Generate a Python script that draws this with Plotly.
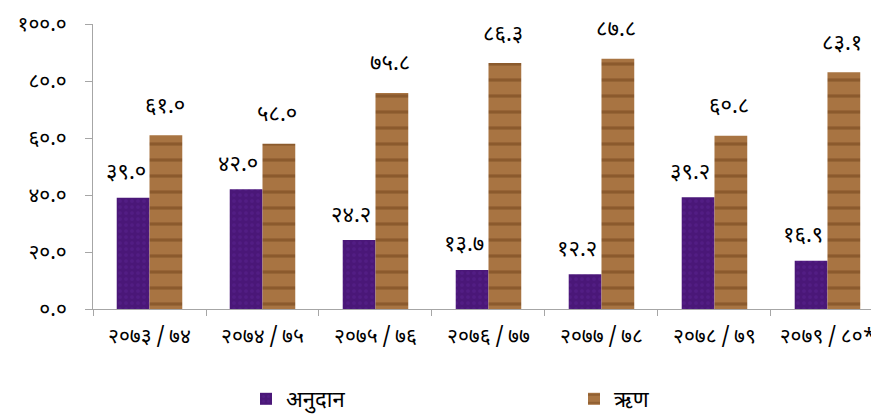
import plotly.graph_objects as go

categories = ["२०७३/७४", "२०७४/७५", "२०७५/७६", "२०७६/७७", "२०७७/७८", "२०७८/७९", "२०७९/८०*"]
grant = [39.0, 42.0, 24.2, 13.7, 12.2, 39.2, 16.9]
loan = [61.0, 58.0, 75.8, 86.3, 87.8, 60.8, 83.1]
series_names = ["अनुदान", "ऋण"]
y_ticks = [0, 20, 40, 60, 80, 100]

DIG = str.maketrans("0123456789", "०१२३४५६७८९")


def np_num(v):
    return f"{v:.1f}".translate(DIG)


def np_cat(c):
    return c.replace("/", "\u2009/\u2009")


FONT = "Noto Sans Devanagari, Lohit Devanagari, Mangal, Noto Sans, DejaVu Sans"
purple = "#4a1778"
brown = "#9c6a3a"

# page body has an 8px margin; figure sized so it fills the rest of the 879x416 window
W, H = 871, 408

fig = go.Figure()
fig.add_trace(go.Bar(
    x=categories, y=grant, name=series_names[0], legend="legend",
    marker=dict(color=purple, line=dict(width=0),
                pattern=dict(shape=".", fgcolor="#5a2490", bgcolor=purple, size=6, solidity=0.3)),
))
fig.add_trace(go.Bar(
    x=categories, y=loan, name=series_names[1], legend="legend2",
    marker=dict(color=brown, line=dict(width=0),
                pattern=dict(shape="-", fgcolor="#6e4018", bgcolor="#a87442", size=16, solidity=0.2)),
))

for c, g, l in zip(categories, grant, loan):
    fig.add_annotation(x=c, y=g, text=np_num(g), showarrow=False, xshift=-24, yshift=24,
                       font=dict(size=22, color="black", family=FONT))
    fig.add_annotation(x=c, y=l, text=np_num(l), showarrow=False, xshift=15, yshift=28,
                       font=dict(size=22, color="black", family=FONT))

legend_common = dict(orientation="h", xref="container", yref="container",
                     xanchor="left", yanchor="middle", y=17 / H, itemwidth=30,
                     bgcolor="rgba(0,0,0,0)", font=dict(size=22, family=FONT))

fig.update_layout(
    width=W, height=H,
    margin=dict(l=85, r=0, t=16, b=107, autoexpand=False),
    plot_bgcolor="white", paper_bgcolor="white",
    barmode="group", bargap=0.42, bargroupgap=0,
    font=dict(family=FONT, color="black", size=20),
    showlegend=True,
    legend=dict(x=(262 - 8 - 16) / W, **legend_common),
    legend2=dict(x=(590 - 8 - 16) / W, **legend_common),
)
fig.update_xaxes(
    tickvals=categories, ticktext=[np_cat(c) for c in categories],
    range=[-0.5, 6.456], showline=True, linecolor="#a6a6a6", linewidth=1,
    ticks="outside", tickson="boundaries", ticklen=6, tickcolor="#a6a6a6",
    showgrid=False, tickfont=dict(size=21, family=FONT), ticklabelstandoff=8,
    automargin=False,
)
fig.update_yaxes(
    range=[0, 100], tickvals=y_ticks, ticktext=[np_num(v) for v in y_ticks],
    showline=True, linecolor="#a6a6a6", linewidth=1,
    ticks="outside", ticklen=7, tickcolor="#a6a6a6",
    showgrid=False, zeroline=False, tickfont=dict(size=21, family=FONT),
    automargin=False, ticklabelstandoff=14,
)

fig.write_html("out.html")
